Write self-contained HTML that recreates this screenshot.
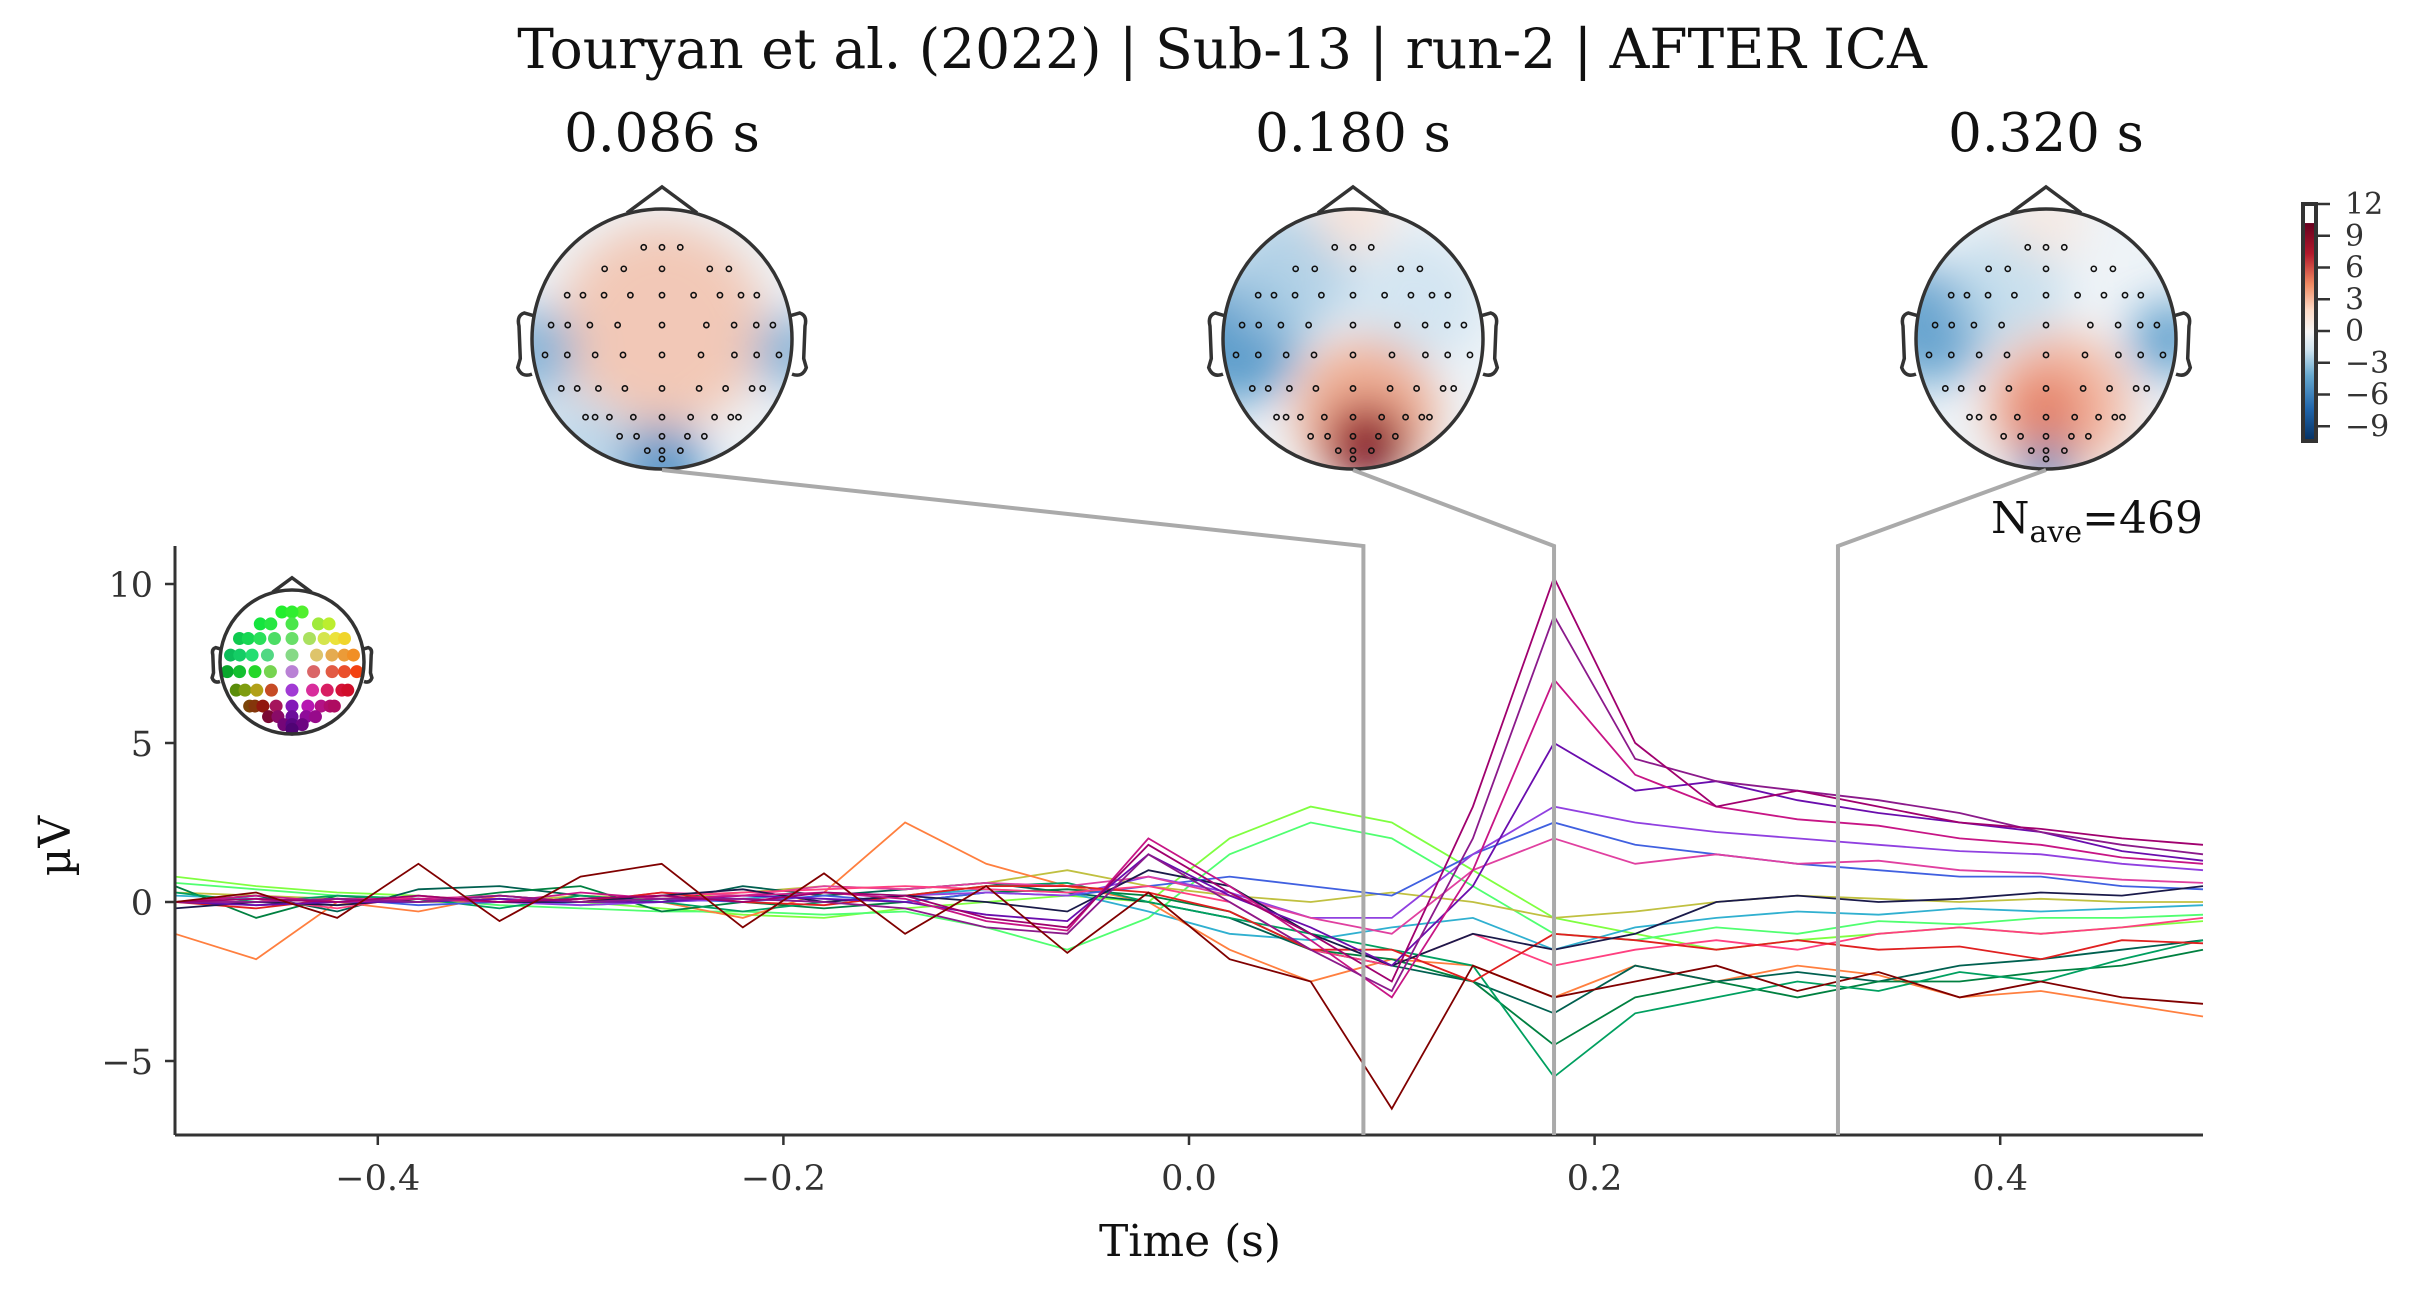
<!DOCTYPE html>
<html><head><meta charset="utf-8"><style>
html,body{margin:0;padding:0;background:#fff;}
svg{display:block;font-family:"DejaVu Serif","Liberation Serif",serif;}
</style></head><body>
<svg id="fig" width="2429" height="1294" viewBox="0 0 2429 1294" xmlns="http://www.w3.org/2000/svg">
<defs>
<linearGradient id="cbg" x1="0" y1="1" x2="0" y2="0">
<stop offset="0" stop-color="#053061"/><stop offset="0.15" stop-color="#2166ac"/><stop offset="0.3" stop-color="#67a9cf"/><stop offset="0.42" stop-color="#d1e5f0"/><stop offset="0.5" stop-color="#f7f7f7"/><stop offset="0.6" stop-color="#fddbc7"/><stop offset="0.72" stop-color="#ef8a62"/><stop offset="0.86" stop-color="#b2182b"/><stop offset="1" stop-color="#67001f"/>
</linearGradient>
<filter id="blur" x="-50%" y="-50%" width="200%" height="200%"><feGaussianBlur stdDeviation="22"/></filter>
</defs>
<text x="1222" y="68" font-size="55" text-anchor="middle" fill="#111">Touryan et al. (2022) | Sub-13 | run-2 | AFTER ICA</text>
<g id="topos"></g>
<g id="colorbar"></g>
<g id="plot"></g>
</svg>
<script>
// ---------- data ----------
const times = [-0.5,-0.46,-0.42,-0.38,-0.34,-0.30,-0.26,-0.22,-0.18,-0.14,-0.10,-0.06,-0.02,0.02,0.06,0.10,0.14,0.18,0.22,0.26,0.30,0.34,0.38,0.42,0.46,0.50];
const xTicks = [-0.4,-0.2,0.0,0.2,0.4];
const xTickLabels = ["\u22120.4","\u22120.2","0.0","0.2","0.4"];
const yTicks = [-5,0,5,10];
const yTickLabels = ["\u22125","0","5","10"];
const topoTimes = [0.086,0.180,0.320];
const topoLabels = ["0.086 s","0.180 s","0.320 s"];
const cbTicks = [12,9,6,3,0,-3,-6,-9];
const cbLabels = ["12","9","6","3","0","\u22123","\u22126","\u22129"];
const channelColors = ["#7fff40","#50ff70","#c0c040","#30b0d0","#ff7f3f","#006050","#008040","#00a060","#4060e0","#9040e0","#e040a0","#ff4080","#e02020","#1a1a4a","#6a0dad","#c71585","#8b1a8b","#a0006e","#800000"];
const chLightGreen = [0.8,0.5,0.3,0.2,0,0,-0.2,-0.4,-0.5,-0.2,0,0.2,0,2,3,2.5,1,-0.5,-1,-1.5,-1.2,-1,-0.8,-1,-0.8,-0.6];
const chGreen2 = [0.6,0.4,0.2,0.1,-0.1,-0.2,-0.3,-0.3,-0.4,-0.3,-0.8,-1.5,-0.5,1.5,2.5,2,0.5,-1,-1.2,-0.8,-1,-0.6,-0.7,-0.5,-0.5,-0.4];
const chYellow = [0.3,0.2,0.1,0,0,0.2,0.1,0.3,0.5,0.4,0.6,1,0.5,0.2,0,0.3,0,-0.5,-0.3,0,0.2,0.1,0,0.1,0,0];
const chCyan = [0.2,0.1,0,0,0.1,-0.1,0,0.1,0.3,0.2,0.4,0.3,-0.3,-1,-1.2,-0.8,-0.5,-1.5,-0.8,-0.5,-0.3,-0.4,-0.2,-0.3,-0.2,-0.1];
const chOrange = [-1,-1.8,0,-0.3,0.2,0,0,-0.5,0.3,2.5,1.2,0.5,0,-1.5,-2.5,-1.8,-2,-3,-2,-2.5,-2,-2.3,-3,-2.8,-3.2,-3.6];
const chTeal = [0,0.2,-0.3,0.4,0.5,0.2,0,0.5,0.2,0.4,0.6,0.3,0,-0.5,-1.5,-2,-2.5,-3.5,-2,-2.5,-2.2,-2.5,-2,-1.8,-1.5,-1.2];
const chGreen = [0.5,-0.5,0.2,0,0.3,0.5,-0.3,0,-0.2,0,0.3,0.4,0.2,-0.3,-1.5,-1.8,-2.5,-4.5,-3,-2.5,-3,-2.5,-2.5,-2.2,-2,-1.5];
const chGreen3 = [0.3,0,0.2,0.1,-0.2,0.2,0,-0.3,0,0.2,0.5,0.6,0,-0.5,-1,-1.5,-2,-5.5,-3.5,-3,-2.5,-2.8,-2.2,-2.5,-1.8,-1.2];
const chBlue = [0,0,0.1,-0.1,0,0,0.1,0,0.2,0,0.3,0.2,0.5,0.8,0.5,0.2,1.5,2.5,1.8,1.5,1.2,1,0.8,0.8,0.5,0.4];
const chViolet = [0,-0.1,0,0.1,0,-0.1,0,0.1,0,0.2,0.3,0.2,0.8,0.3,-0.5,-0.5,1.5,3,2.5,2.2,2,1.8,1.6,1.5,1.2,1];
const chMagenta = [0,0,0.1,0.1,0.2,0,0.3,0.2,0.5,0.4,0.6,0.5,0.8,0.2,-0.5,-1,1,2,1.2,1.5,1.2,1.3,1,0.9,0.7,0.6];
const chPink = [0,0.1,-0.2,0.2,0,0.1,0.2,0.3,0.4,0.5,0.4,0.3,0.5,0,-1.5,-2,-1,-2,-1.5,-1.2,-1.5,-1,-0.8,-1,-0.8,-0.5];
const chRed = [0,-0.2,0.1,0,0.2,0,0.3,0,-0.1,0.2,0.5,0.5,0.3,-0.3,-1.5,-1.5,-2.5,-1,-1.2,-1.5,-1.2,-1.5,-1.4,-1.8,-1.2,-1.3];
const chNavy = [-0.2,0,-0.1,0.1,0,0,0.2,0.4,0,0.2,0,-0.3,1,0.5,-1,-2,-1,-1.5,-1,0,0.2,0,0.1,0.3,0.2,0.5];
const chPurple = [0,-0.1,0,0,0.1,0,0,0.2,0.1,0,-0.4,-0.6,1.5,0.2,-0.8,-2,0.5,5,3.5,3.8,3.2,2.8,2.5,2.2,1.6,1.3];
const chCrimson = [0,0.2,0,0.1,0,0.3,0.1,0.2,0.3,0.1,-0.6,-0.9,2,0.5,-1.2,-3,1,7,4,3,2.6,2.4,2,1.8,1.4,1.2];
const chPlum = [0,0,0.1,0,0.2,0,0.1,0.1,0,-0.2,-0.8,-1,1.5,0,-1.5,-2.8,2,9,4.5,3.8,3.5,3.2,2.8,2.2,1.8,1.5];
const chWine = [0,0.1,0,0.2,0,0.1,0.2,0,0.3,0.2,-0.5,-0.8,1.8,0.3,-1,-2.5,3,10.2,5,3,3.5,3,2.5,2.3,2,1.8];
const chDarkRed = [0,0.3,-0.5,1.2,-0.6,0.8,1.2,-0.8,0.9,-1,0.5,-1.6,0.3,-1.8,-2.5,-6.5,-2,-3,-2.5,-2,-2.8,-2.2,-3,-2.5,-3,-3.2];
const channels = [chLightGreen,chGreen2,chYellow,chCyan,chOrange,chTeal,chGreen,chGreen3,chBlue,chViolet,chMagenta,chPink,chRed,chNavy,chPurple,chCrimson,chPlum,chWine,chDarkRed];

// ---------- geometry ----------
const NS="http://www.w3.org/2000/svg";
const X0=175,X1=2203,YT=546,YB=1135;
const xs=t=>X0+(t+0.5)/1.0*(X1-X0);
const ys=v=>902-v*31.8;
function mk(tag,attrs,parent){const e=document.createElementNS(NS,tag);for(const k in attrs)e.setAttribute(k,attrs[k]);if(parent)parent.appendChild(e);return e;}
const plot=document.getElementById('plot');

const lines=mk('g',{},plot);


channels.forEach((ch,ci)=>{
  const d=ch.map((v,i)=>(i?'L':'M')+xs(times[i]).toFixed(1)+','+ys(v).toFixed(1)).join(' ');
  const p=mk('path',{d:d,fill:'none',stroke:channelColors[ci],'stroke-width':1.8},lines);
  
  
});

const ax=mk('g',{},plot);


mk('line',{x1:X0,y1:YT,x2:X0,y2:YB,stroke:'#333','stroke-width':3},ax);
mk('line',{x1:X0,y1:YB,x2:X1,y2:YB,stroke:'#333','stroke-width':3},ax);
xTicks.forEach((t,i)=>{
  mk('line',{x1:xs(t),y1:YB,x2:xs(t),y2:YB+10,stroke:'#333','stroke-width':2.5},ax);
  const tx=mk('text',{x:xs(t),y:YB+55,'font-size':35,'text-anchor':'middle',fill:'#333'},ax);
  tx.textContent=xTickLabels[i];
  
  
});
yTicks.forEach((v,i)=>{
  mk('line',{x1:X0-10,y1:ys(v),x2:X0,y2:ys(v),stroke:'#333','stroke-width':2.5},ax);
  const tx=mk('text',{x:X0-22,y:ys(v)+13,'font-size':35,'text-anchor':'end',fill:'#333'},ax);
  tx.textContent=yTickLabels[i];
  
  
});
const xl=mk('text',{x:1190,y:1256,'font-size':44,'text-anchor':'middle',fill:'#111'},ax);
xl.textContent='Time (s)';


const yl=mk('text',{x:70,y:846,'font-size':44,'text-anchor':'middle',fill:'#111',transform:'rotate(-90 70 846)'},ax);
yl.textContent='\u00b5V';


const na=mk('text',{x:2203,y:533,'font-size':44,'text-anchor':'end',fill:'#111'},ax);
na.innerHTML='N<tspan font-size="30" dy="9">ave</tspan><tspan dy="-9">=469</tspan>';



const sensorRows=[[-0.22,0.22,0],[-0.6,-0.4,0,0.5,0.7],[-0.9,-0.75,-0.55,-0.3,0,0.3,0.55,0.75,0.9],[-1,-0.85,-0.65,-0.4,0,0.4,0.65,0.85,1],[-1.05,-0.85,-0.6,-0.35,0,0.35,0.65,0.85,1.05],[-0.95,-0.8,-0.6,-0.35,0,0.35,0.6,0.85,0.95],[-0.8,-0.7,-0.55,-0.3,0,0.3,0.55,0.72,0.8],[-0.5,-0.3,0,0.3,0.5],[-0.2,0,0.25],[0]];
const rowY=[-0.8,-0.62,-0.4,-0.15,0.1,0.38,0.62,0.78,0.9,0.97];
function sensors(g,cx,cy,r,dotr,col){
  sensorRows.forEach((row,ri)=>row.forEach(u=>{
    const yy=rowY[ri], xx=u*0.86*Math.sqrt(Math.max(0.05,1-yy*yy*0.7));
    const c=mk('circle',{cx:cx+xx*r,cy:cy+yy*r*0.92,r:dotr,fill:col?col(xx,yy):'none',stroke:col?'none':'#111','stroke-width':1.6},g);
    
    
  }));
}
function headOutline(g,cx,cy,r,sw){
  mk('circle',{cx:cx,cy:cy,r:r,fill:'none',stroke:'#333','stroke-width':sw},g);
  mk('path',{d:`M${cx-0.27*r},${cy-0.97*r} L${cx},${cy-1.17*r} L${cx+0.27*r},${cy-0.97*r}`,fill:'none',stroke:'#333','stroke-width':sw},g);
  [-1,1].forEach(s=>mk('path',{d:`M${cx+s*0.99*r},${cy-0.18*r} L${cx+s*1.06*r},${cy-0.2*r} Q${cx+s*1.12*r},${cy-0.18*r} ${cx+s*1.1*r},${cy-0.1*r} L${cx+s*1.09*r},${cy+0.15*r} L${cx+s*1.11*r},${cy+0.22*r} Q${cx+s*1.08*r},${cy+0.3*r} ${cx+s*1.0*r},${cy+0.27*r}`,fill:'none',stroke:'#333','stroke-width':sw},g));
}

const inset=mk('g',{},plot);


sensors(inset,292,665,72,6.5,(u,yy)=>{
  const ang=Math.atan2(yy,u)*180/Math.PI;
  let hue;
  if(ang>=-90&&ang<=90) hue=20-ang*100/90;
  else if(ang>90) hue=280+(ang-90)*230/90;
  else hue=120-(ang+90)*30/90;
  hue=((hue%360)+360)%360;
  const rad=Math.min(1,Math.hypot(u,yy));
  const l=Math.max(16,72-rad*20-Math.max(0,yy)*30-Math.max(0,-u)*18);
  return `hsl(${hue},${45+rad*50}%,${l}%)`;
});
headOutline(inset,292,662,72,3.5);

const topos=document.getElementById('topos');
const topoCX=[662,1353,2046],CY=339,R=130;
const blobs=[
 [[0,-0.1,0.8,'#f4b79b',0.7],[-1,0.1,0.35,'#6fa8d2',0.8],[1,0.1,0.3,'#6fa8d2',0.8],[0,1,0.35,'#4b8fc4',0.9],[-0.6,0.8,0.35,'#a9cde6',0.7]],
 [[-0.9,0.0,0.5,'#4d93c6',0.9],[-0.5,-0.5,0.5,'#a6cbe3',0.8],[0.5,-0.3,0.5,'#c9e0ef',0.7],[0.1,0.55,0.55,'#f1a98b',0.9],[0.1,0.8,0.32,'#a5122a',1],[0.15,0.85,0.2,'#6a0020',1],[0,-0.95,0.3,'#fae0d3',0.8]],
 [[-0.9,-0.1,0.45,'#5a9bcb',0.9],[0.95,0,0.3,'#5a9bcb',0.9],[-0.3,-0.4,0.45,'#b8d7ea',0.7],[0.1,0.5,0.55,'#f4b39a',0.9],[0,0.55,0.3,'#e27b63',0.9],[0,1,0.2,'#3f86bf',1],[0,-0.9,0.3,'#fae6dc',0.7]]
];
topoCX.forEach((cx,k)=>{
  const g=mk('g',{},topos);
  
  
  const cid='clip'+k;
  const cp=mk('clipPath',{id:cid},g);mk('circle',{cx:cx,cy:CY,r:R},cp);
  const inner=mk('g',{'clip-path':`url(#${cid})`},g);
  mk('rect',{x:cx-R,y:CY-R,width:2*R,height:2*R,fill:'#eef3f7'},inner);
  const bg=mk('g',{filter:'url(#blur)'},inner);
  blobs[k].forEach(b=>mk('circle',{cx:cx+b[0]*R,cy:CY+b[1]*R,r:b[2]*R,fill:b[3],opacity:b[4]},bg));
  sensors(g,cx,CY+4,R,2.6,null);
  headOutline(g,cx,CY,R,3.5);
  const t=mk('text',{x:cx,y:151,'font-size':53,'text-anchor':'middle',fill:'#111'},g);
  t.textContent=topoLabels[k];
  
  
  const cn=mk('path',{d:`M${cx},${CY+R+1} L${xs(topoTimes[k])},${YT} L${xs(topoTimes[k])},${YB}`,fill:'none',stroke:'#aaa','stroke-width':4},plot);
  
  
});

const cb=document.getElementById('colorbar');
const cbY=v=>331-v*(331-204)/12;
mk('rect',{x:2303,y:204,width:13,height:237,fill:'#fff'},cb);
mk('rect',{x:2303,y:cbY(10.2),width:13,height:441-cbY(10.2),fill:'url(#cbg)'},cb);
mk('rect',{x:2303,y:204,width:13,height:237,fill:'none',stroke:'#333','stroke-width':4},cb);
cbTicks.forEach((v,i)=>{
  mk('line',{x1:2316,y1:cbY(v),x2:2330,y2:cbY(v),stroke:'#333','stroke-width':2.5},cb);
  const t=mk('text',{x:2345,y:cbY(v)+10,'font-size':30,fill:'#333'},cb);
  t.textContent=cbLabels[i];
  
  
});
</script>
</body></html>
